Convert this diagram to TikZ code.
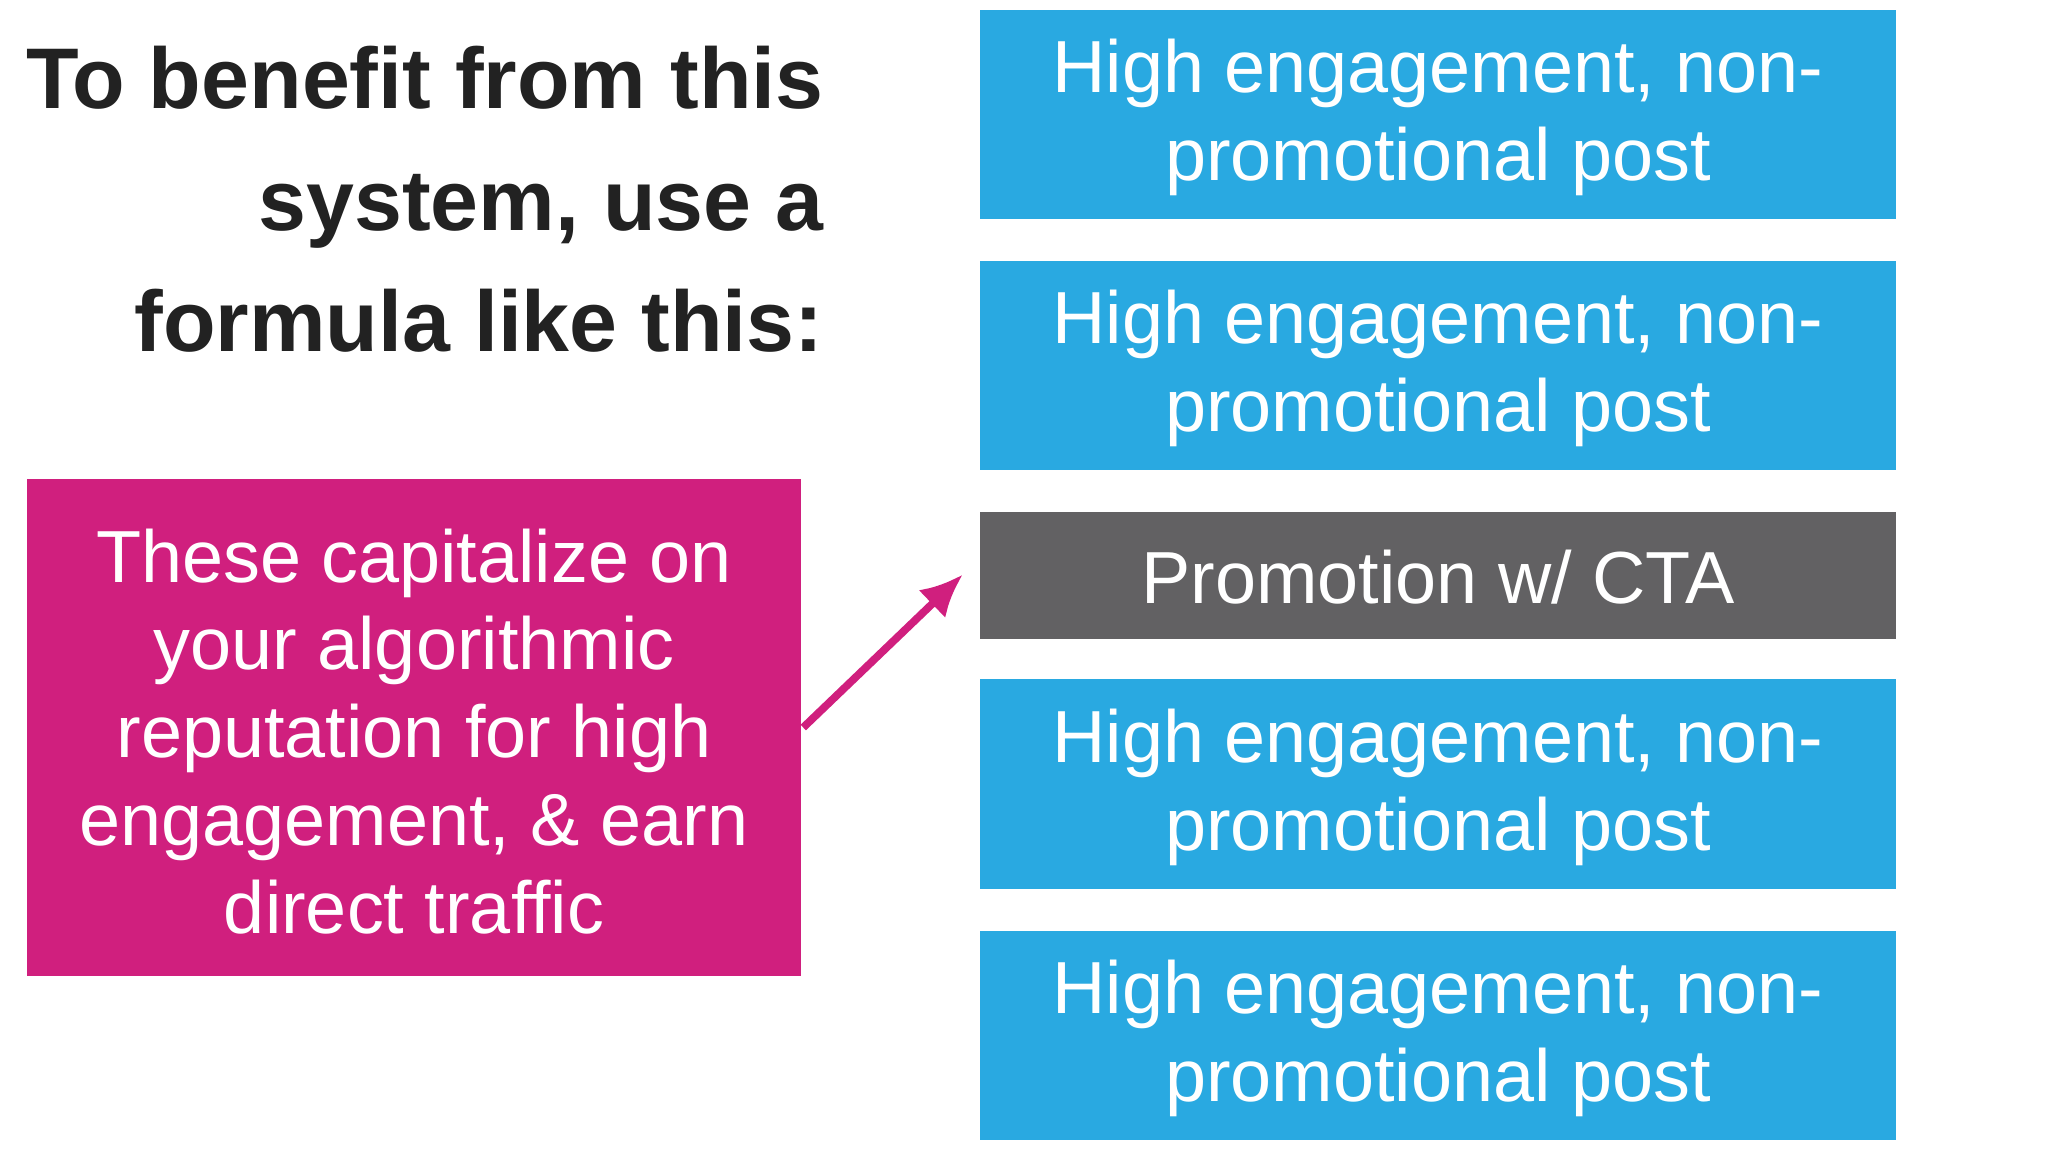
\documentclass[tikz,border=0pt]{standalone}
\usepackage{fontspec}
\setmainfont{Liberation Sans}
\usetikzlibrary{arrows.meta}
\definecolor{bblue}{HTML}{29A9E1}
\definecolor{bgrey}{HTML}{626163}
\definecolor{bpink}{HTML}{D01F7E}
\definecolor{ttext}{HTML}{222222}
\begin{document}
\begin{tikzpicture}[x=0.01306cm,y=-0.01306cm,
  box/.style={text=white,align=center,font=\fontsize{21}{25}\selectfont}]
\useasboundingbox[fill=white] (0,0) rectangle (1568,882);
\fill[bblue] (750,8) rectangle (1452,168);
\node[box] (p1) at (1101,90) {High engagement, non-\\promotional post};
\fill[bblue] (750,200) rectangle (1452,360);
\node[box] (p2) at (1101,282) {High engagement, non-\\promotional post};
\fill[bgrey] (750,392) rectangle (1452,489);
\node[box] (p3) at (1101,442) {Promotion w/ CTA};
\coordinate (p3w) at (737,440);
\fill[bblue] (750,520) rectangle (1452,681);
\node[box] (p4) at (1101,603) {High engagement, non-\\promotional post};
\fill[bblue] (750,713) rectangle (1452,873);
\node[box] (p5) at (1101,795) {High engagement, non-\\promotional post};
\fill[bpink] (21,367) rectangle (613,747);
\node[box] (pk) at (317,560) {These capitalize on\\your algorithmic\\reputation for high\\engagement, \& earn\\direct traffic};
\coordinate (a0) at (615,557);
\draw[bpink,line width=2.2pt,-{Latex[length=12pt,width=11pt]}] (a0) -- (p3w);
\node[anchor=north east,align=right,text=ttext,font=\bfseries\fontsize{24.5}{34.5}\selectfont] (t) at (640,26) {To benefit from this\\system, use a\\formula like this:};
\end{tikzpicture}
\end{document}
